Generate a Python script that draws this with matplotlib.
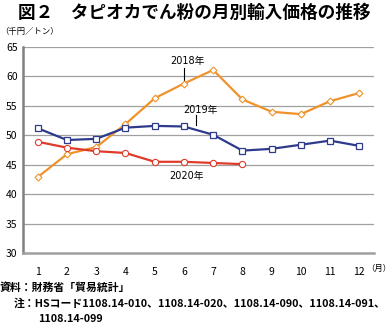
import numpy as np
from matplotlib import pyplot as plt

plt.rcParams['font.family'] = ['Noto Sans CJK JP', 'DejaVu Sans']

months = np.arange(1, 13)
price_2018 = [42.9, 46.8, 48.0, 51.9, 56.3, 58.8, 61.1, 56.1, 54.0, 53.6, 55.8, 57.2]
price_2019 = [51.2, 49.2, 49.4, 51.3, 51.6, 51.5, 50.1, 47.4, 47.7, 48.4, 49.1, 48.2]
months_2020 = np.arange(1, 9)
price_2020 = [48.9, 47.9, 47.3, 47.0, 45.5, 45.5, 45.3, 45.1]
yticks = [30, 35, 40, 45, 50, 55, 60, 65]

fig = plt.figure(figsize=(3.92, 3.29), dpi=100)
ax = fig.add_axes([0.059, 0.231, 0.895, 0.626])

for y in yticks[1:]:
    ax.axhline(y, color='#a0a0a0', lw=0.9, zorder=0)

ax.plot(months, price_2018, '-D', color='#f0922a', lw=1.6, ms=3.5,
        mfc='white', mec='#f0922a', mew=0.8, zorder=3)
ax.plot(months, price_2019, '-s', color='#2e3a8c', lw=1.6, ms=5,
        mfc='white', mec='#2e3a8c', mew=0.9, zorder=4)
ax.plot(months_2020, price_2020, '-o', color='#e03a2a', lw=1.6, ms=4.5,
        mfc='white', mec='#e03a2a', mew=0.8, zorder=3)

# labels for the lines
lbl_font = ['DejaVu Sans', 'Noto Sans CJK JP']
ax.text(6.12, 62.6, '2018年', fontsize=7, ha='center', va='center', family=lbl_font)
ax.plot([6.01, 6.01], [58.9, 61.4], color='black', lw=0.8)
ax.text(6.57, 54.3, '2019年', fontsize=7, ha='center', va='center', family=lbl_font)
ax.plot([6.42, 6.42], [51.7, 53.4], color='black', lw=0.8)
ax.text(6.08, 43.1, '2020年', fontsize=7, ha='center', va='center', family=lbl_font)

ax.set_xlim(0.5, 12.5)
ax.set_ylim(30, 65)
ax.set_xticks(months)
ax.set_yticks(yticks)
ax.tick_params(length=0, labelsize=7.5)
ax.tick_params(axis='x', pad=10)
ax.tick_params(axis='y', pad=4)
for s in ['top', 'right']:
    ax.spines[s].set_visible(False)
ax.spines['left'].set_color('#808080')
ax.spines['left'].set_linewidth(1.8)
ax.spines['bottom'].set_color('#a0a0a0')
ax.spines['bottom'].set_linewidth(1.8)

fig.text(0.045, 0.962, '図２　タピオカでん粉の月別輸入価格の推移', fontsize=12.7,
         fontweight='bold', va='center')
fig.text(0.0, 0.903, '（千円／トン）', fontsize=6, va='center')
fig.text(0.999, 0.185, '（月）', fontsize=6, va='center', ha='right')
fig.text(0.0, 0.127, '資料：財務省「貿易統計」', fontsize=7.8, va='center', fontweight='bold')
fig.text(0.035, 0.079, '注：HSコード1108.14-010、1108.14-020、1108.14-090、1108.14-091、',
         fontsize=7.8, va='center', fontweight='bold')
fig.text(0.097, 0.030, '1108.14-099', fontsize=7.8, va='center', fontweight='bold')

fig.savefig('out.png', dpi=100)
